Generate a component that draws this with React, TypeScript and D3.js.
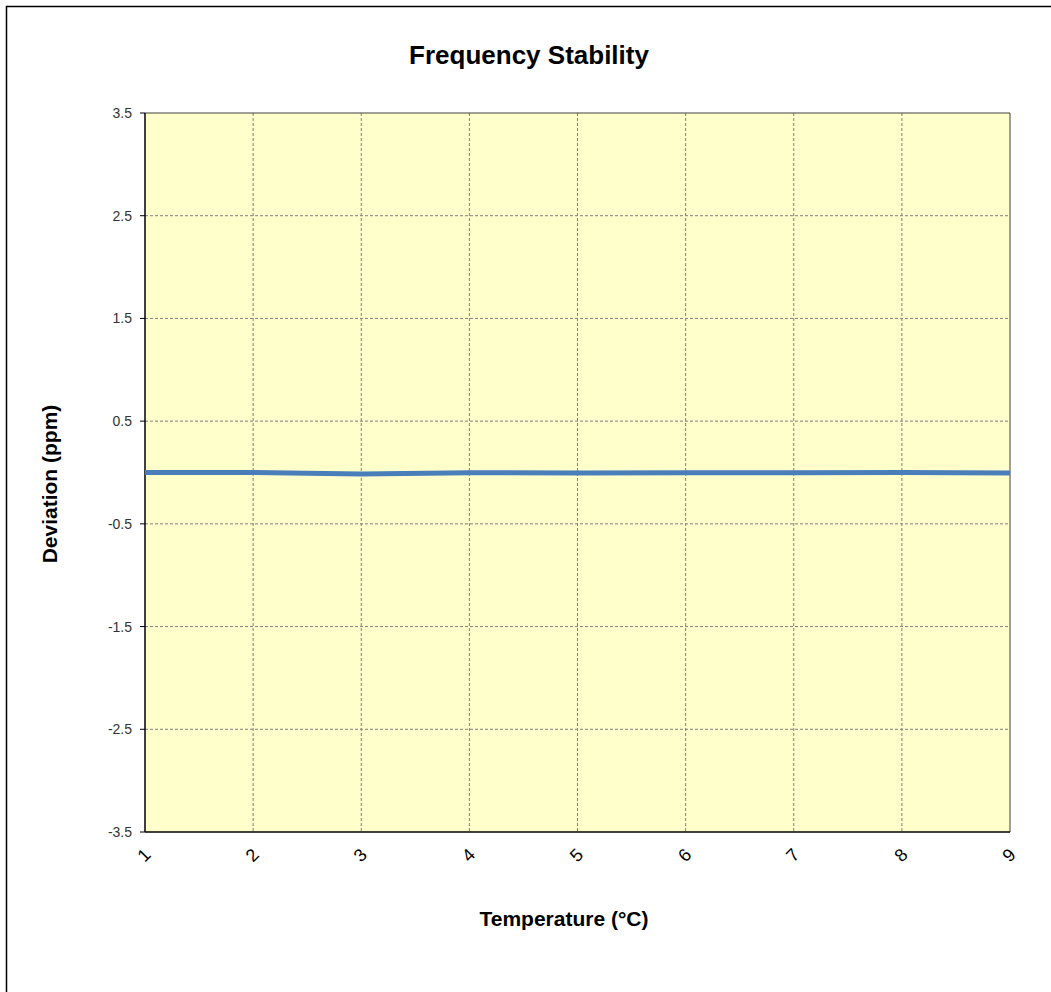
import React from "react";
import * as d3 from "d3";

const temperatures = [1, 2, 3, 4, 5, 6, 7, 8, 9];
const deviations = [0.0, 0.0, -0.015, -0.003, -0.004, -0.003, -0.003, 0.0, -0.004];
const yTicks = [-3.5, -2.5, -1.5, -0.5, 0.5, 1.5, 2.5, 3.5];
const xTicks = [1, 2, 3, 4, 5, 6, 7, 8, 9];

const W = 1051;
const H = 992;
const M = { left: 145, right: 1010, top: 113, bottom: 832 };
const FONT = "'Liberation Sans', Arial, sans-serif";

export default function App() {
  const x = d3.scaleLinear().domain([1, 9]).range([M.left, M.right]);
  const y = d3.scaleLinear().domain([-3.5, 3.5]).range([M.bottom, M.top]);
  const line = d3
    .line<number>()
    .x((_, i) => x(temperatures[i]))
    .y((d) => y(d));

  return (
    <svg
      width={W}
      height={H}
      style={{ position: "absolute", left: 0, top: 0, background: "#fff" }}
      fontFamily={FONT}
    >
      <rect x={6.5} y={6.5} width={W + 20} height={H + 20} fill="#fff" stroke="#000" strokeWidth={1.5} />
      <text x={529} y={64} textAnchor="middle" fontSize={26} fontWeight="bold" fill="#000">
        Frequency Stability
      </text>
      <rect x={M.left} y={M.top} width={M.right - M.left} height={M.bottom - M.top} fill="#ffffcc" />
      {yTicks.slice(1, -1).map((t) => (
        <line key={"gy" + t} x1={M.left} x2={M.right} y1={y(t)} y2={y(t)} stroke="#808080" strokeWidth={1} strokeDasharray="3,2" />
      ))}
      {xTicks.slice(1, -1).map((t) => (
        <line key={"gx" + t} x1={x(t)} x2={x(t)} y1={M.top} y2={M.bottom} stroke="#808080" strokeWidth={1} strokeDasharray="3,2" />
      ))}
      <line x1={M.left} x2={M.right} y1={M.top} y2={M.top} stroke="#404040" strokeWidth={1} />
      <line x1={M.right} x2={M.right} y1={M.top} y2={M.bottom} stroke="#404040" strokeWidth={1} />
      <line x1={M.left} x2={M.left} y1={M.top} y2={M.bottom} stroke="#000" strokeWidth={1.5} />
      <line x1={M.left} x2={M.right} y1={M.bottom} y2={M.bottom} stroke="#000" strokeWidth={1.5} />
      {yTicks.map((t) => (
        <g key={"ty" + t}>
          <line x1={M.left - 5} x2={M.left} y1={y(t)} y2={y(t)} stroke="#000" strokeWidth={1} />
          <text x={M.left - 13} y={y(t) + 5} textAnchor="end" fontSize={14} fill="#333">
            {t.toFixed(1)}
          </text>
        </g>
      ))}
      {xTicks.map((t) => (
        <text
          key={"tx" + t}
          transform={`translate(${x(t)},${856}) rotate(-45)`}
          textAnchor="middle"
          dominantBaseline="middle"
          fontSize={18}
          fill="#000"
        >
          {t}
        </text>
      ))}
      <path d={line(deviations) || ""} fill="none" stroke="#4a7ebb" strokeWidth={5} strokeLinejoin="round" />
      <text x={564} y={926} textAnchor="middle" fontSize={21} fontWeight="bold" fill="#000">
        Temperature (°C)
      </text>
      <text
        transform={`translate(57,484) rotate(-90)`}
        textAnchor="middle"
        fontSize={21}
        fontWeight="bold"
        fill="#000"
      >
        Deviation (ppm)
      </text>
    </svg>
  );
}
